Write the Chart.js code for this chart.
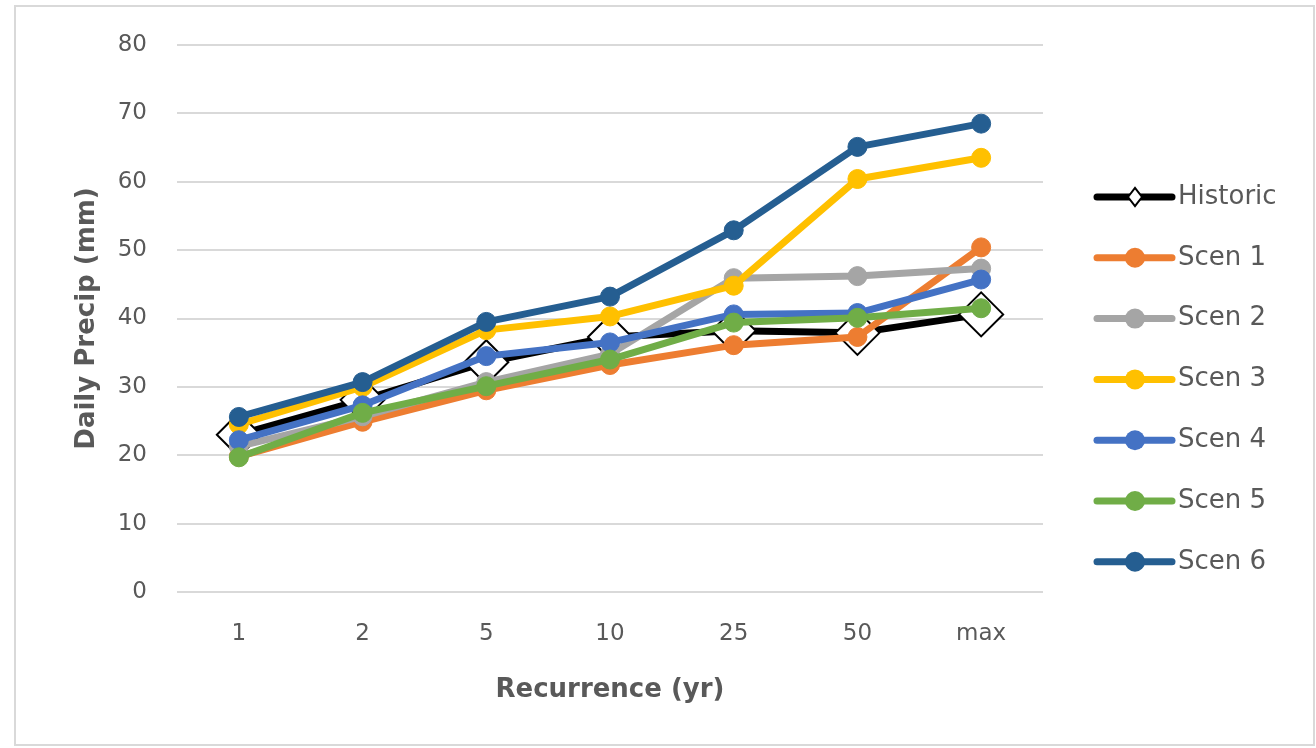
<!DOCTYPE html>
<html>
<head>
<meta charset="utf-8">
<title>Daily Precip by Recurrence</title>
<script src="https://cdn.jsdelivr.net/npm/chart.js@4.4.1/dist/chart.umd.min.js"></script>
<style>
  html, body { margin: 0; padding: 0; background: #ffffff; }
  canvas { display: block; }
</style>
</head>
<body>
<canvas id="chart" width="1316" height="748"></canvas>
<script>
// Recurrence intervals (years) on the category axis
const recurrence = ['1', '2', '5', '10', '25', '50', 'max'];

// Daily precipitation (mm) per scenario
const historic = [23.0, 28.1, 33.6, 37.3, 38.2, 37.9, 40.6];
const scen1 = [19.8, 24.9, 29.5, 33.2, 36.1, 37.3, 50.4];
const scen2 = [21.3, 25.7, 30.7, 34.8, 45.9, 46.2, 47.3];
const scen3 = [24.5, 30.0, 38.3, 40.3, 44.8, 60.4, 63.5];
const scen4 = [22.2, 27.3, 34.5, 36.5, 40.6, 40.8, 45.7];
const scen5 = [19.7, 26.2, 30.1, 34.0, 39.4, 40.1, 41.5];
const scen6 = [25.6, 30.7, 39.5, 43.2, 52.9, 65.1, 68.5];

const seriesNames = ['Historic', 'Scen 1', 'Scen 2', 'Scen 3', 'Scen 4', 'Scen 5', 'Scen 6'];
const seriesColors = ['#000000', '#ED7D31', '#A5A5A5', '#FFC000', '#4472C4', '#70AD47', '#255E91'];
const seriesValues = [historic, scen1, scen2, scen3, scen4, scen5, scen6];

const yTicks = [0, 10, 20, 30, 40, 50, 60, 70, 80];

const TEXT = '#595959';
const GRID = '#d9d9d9';
const FONT = "'DejaVu Sans', sans-serif";

const datasets = seriesValues.map((vals, i) => {
  const isHist = i === 0;
  return {
    label: seriesNames[i],
    data: vals,
    borderColor: seriesColors[i],
    backgroundColor: isHist ? '#ffffff' : seriesColors[i],
    borderWidth: 7,
    tension: 0,
    borderJoinStyle: 'round',
    borderCapStyle: 'round',
    pointStyle: isHist ? 'rectRot' : 'circle',
    pointRadius: isHist ? 22 : 9.5,
    pointHoverRadius: isHist ? 22 : 9.5,
    pointBackgroundColor: isHist ? '#ffffff' : seriesColors[i],
    pointBorderColor: seriesColors[i],
    pointBorderWidth: isHist ? 2 : 1,
    order: -i,          // later scenarios are painted over earlier ones
    clip: false
  };
});

// Outer frame of the chart
const framePlugin = {
  id: 'frame',
  beforeDraw(chart) {
    const ctx = chart.ctx;
    ctx.save();
    ctx.fillStyle = '#ffffff';
    ctx.fillRect(0, 0, chart.width, chart.height);
    ctx.strokeStyle = GRID;
    ctx.lineWidth = 2;
    ctx.strokeRect(15, 6, 1299, 739);
    ctx.restore();
  }
};

// Legend on the right: line sample with its marker, then the name
const sideLegend = {
  id: 'sideLegend',
  afterDraw(chart) {
    const ctx = chart.ctx;
    const x0 = 1097, x1 = 1172, xm = 1135, tx = 1178;
    ctx.save();
    chart.data.datasets.forEach((ds, i) => {
      const y = 197 + 60.8 * i;
      ctx.strokeStyle = ds.borderColor;
      ctx.lineWidth = 7;
      ctx.lineCap = 'round';
      ctx.beginPath();
      ctx.moveTo(x0, y);
      ctx.lineTo(x1, y);
      ctx.stroke();
      if (ds.pointStyle === 'rectRot') {
        ctx.beginPath();
        ctx.moveTo(xm - 7, y);
        ctx.lineTo(xm, y - 9);
        ctx.lineTo(xm + 7, y);
        ctx.lineTo(xm, y + 9);
        ctx.closePath();
        ctx.fillStyle = '#ffffff';
        ctx.fill();
        ctx.lineWidth = 2;
        ctx.lineCap = 'butt';
        ctx.strokeStyle = '#000000';
        ctx.stroke();
      } else {
        ctx.beginPath();
        ctx.arc(xm, y, 10, 0, Math.PI * 2);
        ctx.fillStyle = ds.pointBackgroundColor;
        ctx.fill();
      }
      ctx.fillStyle = TEXT;
      ctx.font = "26px 'DejaVu Sans', sans-serif";
      ctx.textAlign = 'left';
      ctx.textBaseline = 'middle';
      ctx.fillText(ds.label, tx, y);
    });
    ctx.restore();
  }
};

new Chart(document.getElementById('chart'), {
  type: 'line',
  data: { labels: recurrence, datasets },
  options: {
    responsive: false,
    animation: false,
    devicePixelRatio: 1,
    events: [],
    layout: { padding: { left: 14, top: 45, right: 273, bottom: 6 } },
    plugins: {
      legend: { display: false },
      tooltip: { enabled: false },
      title: { display: false }
    },
    scales: {
      x: {
        offset: true,
        grid: { display: false, drawTicks: false },
        border: { display: false },
        ticks: { color: TEXT, font: { family: FONT, size: 23 }, padding: 28, maxRotation: 0 },
        title: {
          display: true,
          text: 'Recurrence (yr)',
          color: TEXT,
          font: { family: FONT, size: 26, weight: 'bold' },
          padding: { top: 0, bottom: 36 }
        },
        afterFit(scale) { scale.height = 150; }
      },
      y: {
        min: 0,
        max: 80,
        afterBuildTicks(scale) { scale.ticks = yTicks.map(v => ({ value: v })); },
        grid: { color: GRID, lineWidth: 2, drawTicks: false },
        border: { display: false },
        ticks: { color: TEXT, font: { family: FONT, size: 23 }, padding: 30 },
        title: {
          display: true,
          text: 'Daily Precip (mm)',
          color: TEXT,
          font: { family: FONT, size: 26, weight: 'bold' },
          padding: { top: 58, bottom: 0 }
        },
        afterFit(scale) { scale.width = 163; }
      }
    }
  },
  plugins: [framePlugin, sideLegend]
});
</script>
</body>
</html>
